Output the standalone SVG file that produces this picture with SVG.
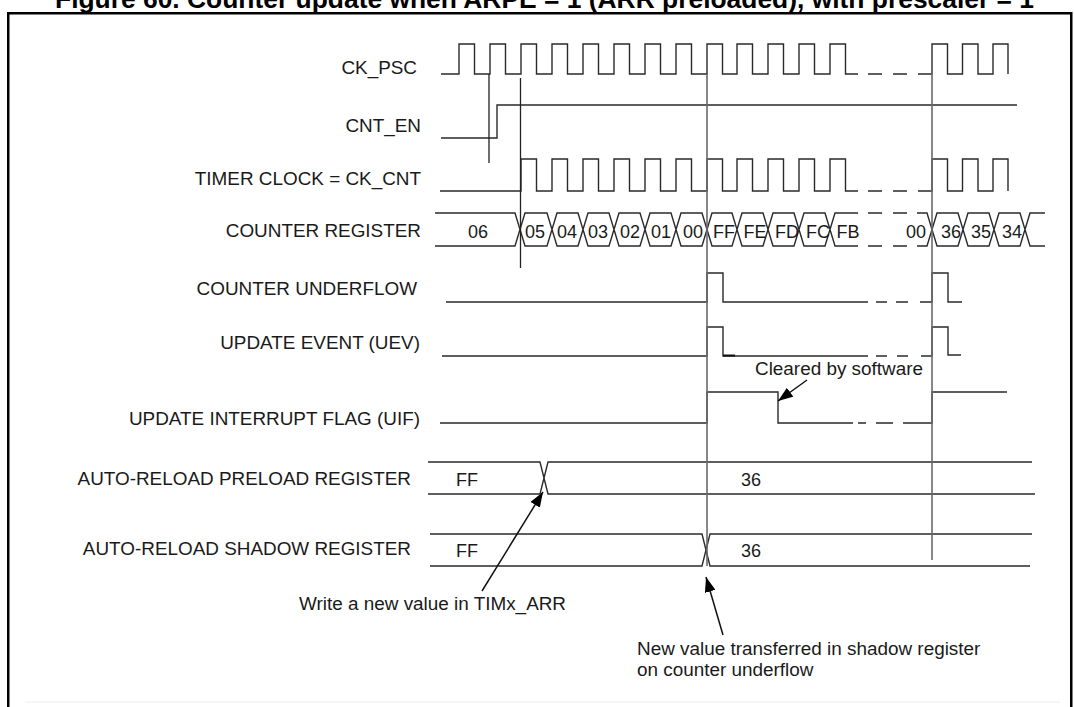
<svg xmlns="http://www.w3.org/2000/svg" width="1074" height="707" viewBox="0 0 1074 707">
<style>
.lbl{font-family:"Liberation Sans",Arial,sans-serif;font-size:18.9px;fill:#1a1a1a;text-anchor:end}
.val{font-family:"Liberation Sans",Arial,sans-serif;font-size:18px;fill:#1a1a1a;text-anchor:middle}
.note{font-family:"Liberation Sans",Arial,sans-serif;font-size:18.9px;fill:#1a1a1a}
.wf{fill:none;stroke:#2a2a2a;stroke-width:1.4;stroke-linejoin:miter}
.cur{fill:none;stroke:#6a6a6a;stroke-width:1.6}
.ref{fill:none;stroke:#222;stroke-width:1.3}
.arr{fill:none;stroke:#111;stroke-width:1.5}
</style>
<defs>
<marker id="ah" viewBox="0 0 15 11" refX="15" refY="5.5" markerWidth="15" markerHeight="11" markerUnits="userSpaceOnUse" orient="auto">
<path d="M0,0L15,5.5L0,11Z" fill="#000"/>
</marker>
</defs>
<rect width="1074" height="707" fill="#fff"/>
<g id="title">
<text x="55" y="8" font-family="'Liberation Sans',Arial,sans-serif" font-size="26.4" font-weight="bold" fill="#000" textLength="979" lengthAdjust="spacingAndGlyphs">Figure 60. Counter update when ARPE = 1 (ARR preloaded), with prescaler = 1</text>
</g>
<g id="frame">
<rect x="8.25" y="13.25" width="1063" height="720" fill="none" stroke="#000" stroke-width="2.5"/>
<line x1="25" y1="702" x2="1060" y2="702" stroke="#ececec" stroke-width="1"/>
</g>
<g id="sig-ck-psc">
<text class="lbl" x="417" y="74">CK_PSC</text>
<path class="wf" d="M441,74H459V44H474.5V74H490V44H505.5V74H521V44H536.5V74H552V44H567.5V74H583V44H598.5V74H614V44H629.5V74H645V44H660.5V74H676V44H691.5V74H707V44H722.5V74H737V44H752.5V74H768V44H783.5V74H799V44H814.5V74H830V44H845.5V74H858M868,74H882M893,74H907M918,74H932V44H947.5V74H962.5V44H978V74H993V44H1008V74"/>
</g>
<g id="sig-cnt-en">
<text class="lbl" x="421" y="132">CNT_EN</text>
<path class="wf" d="M441,138H497V105H1017"/>
</g>
<g id="sig-timer-clock">
<text class="lbl" x="421" y="185">TIMER CLOCK = CK_CNT</text>
<path class="wf" d="M440,191H521V159H536.5V191H552V159H567.5V191H583V159H598.5V191H614V159H629.5V191H645V159H660.5V191H676V159H691.5V191H707V159H722.5V191H737V159H752.5V191H768V159H783.5V191H799V159H814.5V191H830V159H845.5V191H858M868,191H882M893,191H907M918,191H932V159H947.5V191H962.5V159H978V191H993V159H1008V191"/>
</g>
<g id="sig-counter-register">
<text class="lbl" x="421" y="237">COUNTER REGISTER</text>
<path class="wf" d="M435,213H515L520,229.5L515,246H435
M520,229.5L525,213H547L552,229.5L547,246H525Z
M552,229.5L557,213H578L583,229.5L578,246H557Z
M583,229.5L588,213H609L614,229.5L609,246H588Z
M614,229.5L619,213H640L645,229.5L640,246H619Z
M645,229.5L650,213H671L676,229.5L671,246H650Z
M676,229.5L681,213H702L707,229.5L702,246H681Z
M707,229.5L712,213H732L737,229.5L732,246H712Z
M737,229.5L742,213H763L768,229.5L763,246H742Z
M768,229.5L773,213H794L799,229.5L794,246H773Z
M799,229.5L804,213H825L830,229.5L825,246H804Z
M858,213H835L830,229.5L835,246H858
M868,213H882M893,213H907M868,246H882M893,246H907
M917,213H927L932,229.5L927,246H917
M932,229.5L937,213H958L963,229.5L958,246H937Z
M963,229.5L968,213H989L994,229.5L989,246H968Z
M994,229.5L999,213H1020L1025,229.5L1020,246H999Z
M1045,213H1030L1025,229.5L1030,246H1045"/>
<text class="val" x="478" y="238">06</text>
<text class="val" x="535" y="238">05</text>
<text class="val" x="567" y="238">04</text>
<text class="val" x="598" y="238">03</text>
<text class="val" x="630" y="238">02</text>
<text class="val" x="661" y="238">01</text>
<text class="val" x="693" y="238">00</text>
<text class="val" x="724" y="238">FF</text>
<text class="val" x="755" y="238">FE</text>
<text class="val" x="787" y="238">FD</text>
<text class="val" x="818" y="238">FC</text>
<text class="val" x="848" y="238">FB</text>
<text class="val" x="916" y="238">00</text>
<text class="val" x="951" y="238">36</text>
<text class="val" x="981" y="238">35</text>
<text class="val" x="1012" y="238">34</text>
</g>
<g id="sig-counter-underflow">
<text class="lbl" x="417" y="295">COUNTER UNDERFLOW</text>
<path class="wf" d="M446,302H707V273H723V302H868M876,302H887M896,302H908M920,302H932V273H948V302H962"/>
</g>
<g id="sig-uev">
<text class="lbl" x="420" y="349">UPDATE EVENT (UEV)</text>
<path class="wf" d="M442,356H707V327H723V356H868M876,356H887M897,356H908M921,356H932V327H948V355H961"/>
<path d="M723,355.5H735" stroke="#111" stroke-width="2"/>
</g>
<g id="sig-uif">
<text class="lbl" x="420" y="425">UPDATE INTERRUPT FLAG (UIF)</text>
<path class="wf" d="M440,423H707V392H778V423H853M858,423H866M876,423H893M903,423H932V392H1007"/>
</g>
<g id="sig-arr-preload">
<text class="lbl" x="411" y="485">AUTO-RELOAD PRELOAD REGISTER</text>
<path class="wf" d="M428,462H540L548,494H1035M428,494H540L548,462H1032"/>
<text class="val" x="467" y="486">FF</text>
<text class="val" x="751" y="486">36</text>
</g>
<g id="sig-arr-shadow">
<text class="lbl" x="411" y="555">AUTO-RELOAD SHADOW REGISTER</text>
<path class="wf" d="M430,534H702L710,566H1030M430,566H702L710,534H1032"/>
<text class="val" x="467" y="557">FF</text>
<text class="val" x="751" y="557">36</text>
</g>
<g id="connectors">
<path class="ref" d="M489,74V163M520.5,78V268"/>
<path class="cur" d="M707,74V566M932,73V560"/>
<line class="arr" x1="807" y1="380" x2="778" y2="401" marker-end="url(#ah)"/>
<line class="arr" x1="482" y1="591" x2="543" y2="492" marker-end="url(#ah)"/>
<line class="arr" x1="723" y1="635" x2="706" y2="577" marker-end="url(#ah)"/>
</g>
<g id="note-cleared">
<text class="note" x="755" y="375">Cleared by software</text>
</g>
<g id="note-write">
<text class="note" x="299" y="610">Write a new value in TIMx_ARR</text>
</g>
<g id="note-transfer">
<text class="note" x="637" y="655">New value transferred in shadow register</text>
<text class="note" x="637" y="676">on counter underflow</text>
</g>
</svg>
